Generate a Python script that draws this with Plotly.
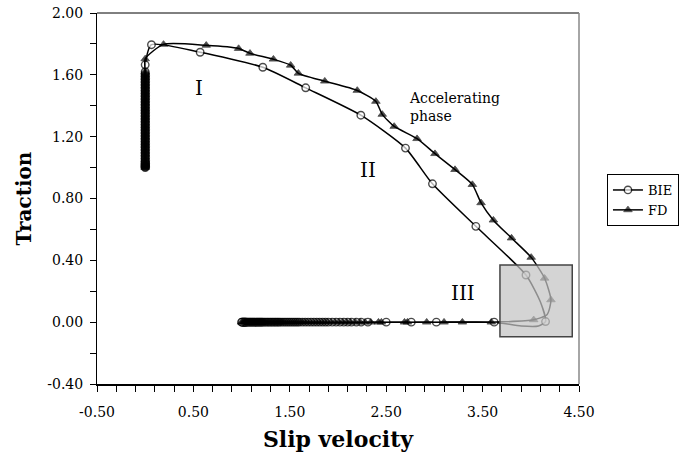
import plotly.graph_objects as go

# ---------------- data ----------------
# BIE: stick phase (x = 0), accelerating branch, loop in region III, decelerating branch (y = 0)
bie_stick_y = [1.00, 1.005, 1.01, 1.015, 1.02, 1.025, 1.03, 1.035, 1.04, 1.05, 1.06, 1.07,
               1.08, 1.09, 1.10, 1.11, 1.12, 1.13, 1.14, 1.15, 1.16, 1.17, 1.18, 1.19, 1.20,
               1.21, 1.22, 1.23, 1.24, 1.25, 1.26, 1.27, 1.28, 1.29, 1.30, 1.31, 1.32, 1.33,
               1.34, 1.35, 1.36, 1.37, 1.38, 1.39, 1.40, 1.41, 1.42, 1.43, 1.44, 1.45, 1.46,
               1.47, 1.48, 1.49, 1.50, 1.51, 1.52, 1.53, 1.54, 1.55, 1.56, 1.57, 1.58, 1.59,
               1.60, 1.61, 1.62, 1.665]
bie_acc_x = [0.065, 0.57, 1.22, 1.665, 2.237, 2.70, 2.98, 3.43, 3.95]
bie_acc_y = [1.795, 1.746, 1.649, 1.516, 1.339, 1.126, 0.895, 0.62, 0.305]
bie_loop_x = [4.10, 4.153, 4.08, 3.90, 3.62]
bie_loop_y = [0.13, 0.004, -0.025, -0.025, 0.00]
bie_loop_marked = [False, True, False, False, True]
bie_dec_x = [3.02, 2.76, 2.50, 2.31, 2.24, 2.19, 2.14, 2.10, 2.06, 2.02, 1.98, 1.94, 1.90,
             1.87, 1.84, 1.81, 1.78, 1.75, 1.72, 1.69, 1.66, 1.63, 1.60, 1.58, 1.56, 1.54,
             1.52, 1.50, 1.48, 1.46, 1.44, 1.42, 1.40, 1.385, 1.37, 1.355, 1.34, 1.325, 1.31,
             1.295, 1.28, 1.265, 1.25, 1.235, 1.22, 1.21, 1.20, 1.19, 1.18, 1.17, 1.16, 1.15,
             1.14, 1.13, 1.12, 1.11, 1.10, 1.09, 1.08, 1.07, 1.06, 1.05, 1.045, 1.04, 1.035,
             1.03, 1.025, 1.02, 1.015, 1.01, 1.005, 1.00]

# FD
fd_stick_y = [1.00, 1.005, 1.01, 1.015, 1.02, 1.025, 1.03, 1.04, 1.05, 1.06, 1.07, 1.08,
              1.09, 1.10, 1.11, 1.12, 1.13, 1.14, 1.15, 1.16, 1.17, 1.18, 1.19, 1.20, 1.21,
              1.22, 1.23, 1.24, 1.25, 1.26, 1.27, 1.28, 1.29, 1.30, 1.31, 1.32, 1.33, 1.34,
              1.35, 1.36, 1.37, 1.38, 1.39, 1.40, 1.41, 1.42, 1.43, 1.44, 1.45, 1.46, 1.47,
              1.48, 1.49, 1.50, 1.51, 1.52, 1.53, 1.54, 1.55, 1.56, 1.57, 1.58, 1.59, 1.60,
              1.61, 1.62, 1.703]
fd_acc_x = [0.19, 0.633, 0.969, 1.087, 1.33, 1.509, 1.589, 1.863, 2.20, 2.393, 2.459, 2.583,
            2.82, 3.006, 3.214, 3.394, 3.484, 3.612, 3.80, 4.004, 4.143, 4.209]
fd_acc_y = [1.797, 1.791, 1.770, 1.739, 1.701, 1.662, 1.61, 1.559, 1.499, 1.428, 1.344,
            1.266, 1.187, 1.09, 0.987, 0.890, 0.772, 0.66, 0.544, 0.419, 0.284, 0.144]
fd_loop_x = [4.17, 4.03, 3.59]
fd_loop_y = [0.05, 0.015, 0.00]
fd_loop_marked = [False, True, True]
fd_dec_x = [3.29, 3.10, 2.92, 2.72, 2.69, 2.45, 2.42, 2.34, 2.28, 2.23, 2.18, 2.13, 2.09,
            2.05, 2.01, 1.97, 1.93, 1.89, 1.86, 1.83, 1.80, 1.77, 1.74, 1.71, 1.68, 1.655,
            1.63, 1.605, 1.58, 1.56, 1.54, 1.52, 1.50, 1.48, 1.46, 1.44, 1.425, 1.41, 1.395,
            1.38, 1.365, 1.35, 1.335, 1.32, 1.305, 1.29, 1.275, 1.26, 1.245, 1.23, 1.22,
            1.21, 1.20, 1.19, 1.18, 1.17, 1.16, 1.15, 1.14, 1.13, 1.12, 1.11, 1.10, 1.09,
            1.08, 1.07, 1.06, 1.05, 1.04, 1.03, 1.02, 1.01, 1.00]

x_ticks = [-0.5, 0.5, 1.5, 2.5, 3.5, 4.5]
y_ticks = [-0.4, 0.0, 0.4, 0.8, 1.2, 1.6, 2.0]

FONT = "DejaVu Serif"


def assemble(stick_y, acc_x, acc_y, loop_x, loop_y, loop_marked, dec_x):
    xs = [0.0] * len(stick_y) + acc_x + loop_x + dec_x
    ys = stick_y + acc_y + loop_y + [0.0] * len(dec_x)
    marked = [True] * (len(stick_y) + len(acc_x)) + loop_marked + [True] * len(dec_x)
    return xs, ys, marked


bx, by, bm = assemble(bie_stick_y, bie_acc_x, bie_acc_y, bie_loop_x, bie_loop_y,
                      bie_loop_marked, bie_dec_x)
fx, fy, fm = assemble(fd_stick_y, fd_acc_x, fd_acc_y, fd_loop_x, fd_loop_y,
                      fd_loop_marked, fd_dec_x)

fig = go.Figure()
fig.add_trace(go.Scatter(
    x=bx, y=by, name="BIE", mode="lines+markers",
    line=dict(color="black", width=1.5, shape="spline", smoothing=0.6),
    marker=dict(symbol="circle", size=[7.5 if m else 0 for m in bm], color="white",
                line=dict(color="black", width=1.4)),
))
fig.add_trace(go.Scatter(
    x=fx, y=fy, name="FD", mode="lines+markers",
    line=dict(color="black", width=1.5, shape="spline", smoothing=0.6),
    marker=dict(symbol="triangle-up", size=[7.5 if m else 0 for m in fm], color="black",
                line=dict(color="black", width=0.8)),
))

# shaded region III
fig.add_shape(type="rect", xref="x", yref="y", x0=3.68, x1=4.43, y0=-0.095, y1=0.37,
              fillcolor="rgba(195,195,195,0.72)", line=dict(color="#444", width=1.5),
              layer="above")
# top and right borders of plot area
fig.add_shape(type="line", xref="paper", yref="paper", x0=0, x1=1, y0=1, y1=1,
              line=dict(color="black", width=1))
fig.add_shape(type="line", xref="paper", yref="paper", x0=1, x1=1, y0=0, y1=1,
              line=dict(color="#888", width=1.5))

ann_font = dict(family=FONT, size=20, color="black")
fig.add_annotation(x=0.563, y=1.518, text="I", showarrow=False, font=ann_font)
fig.add_annotation(x=2.31, y=0.983, text="II", showarrow=False, font=ann_font)
fig.add_annotation(x=3.30, y=0.189, text="III", showarrow=False, font=ann_font)
fig.add_annotation(x=2.72, y=1.39, text="Accelerating<br>phase", showarrow=False,
                   xanchor="left", align="left", font=dict(family=FONT, size=14, color="black"))

fig.update_layout(
    width=682, height=461,
    margin=dict(l=97, r=103, t=13, b=77, autoexpand=False),
    plot_bgcolor="white", paper_bgcolor="white",
    font=dict(family=FONT, size=14, color="black"),
    showlegend=True,
    legend=dict(x=1.058, y=0.566, xanchor="left", yanchor="top",
                bordercolor="black", borderwidth=1, bgcolor="white",
                font=dict(family=FONT, size=13), itemwidth=30,
                tracegroupgap=0),
    xaxis=dict(range=[-0.5, 4.5], tickvals=x_ticks, ticktext=[f"{v:.2f}" for v in x_ticks],
               showgrid=False, zeroline=False, showline=True, linecolor="black", linewidth=2,
               ticks="outside", ticklen=6, tickcolor="black", automargin=False,
               ticklabelstandoff=8, ticklabeloverflow="allow",
               minor=dict(tick0=-0.5, dtick=0.2, ticks="outside", ticklen=6, tickcolor="black"),
               tickfont=dict(family=FONT, size=14),
               title=dict(text="<b>Slip velocity</b>", font=dict(family=FONT, size=22), standoff=13)),
    yaxis=dict(range=[-0.4, 2.0], tickvals=y_ticks, ticktext=[f"{v:.2f}" for v in y_ticks],
               showgrid=False, zeroline=False, showline=True, linecolor="black", linewidth=1,
               ticks="outside", ticklen=6, tickcolor="black", automargin=False,
               ticklabelstandoff=4, ticklabeloverflow="allow",
               minor=dict(tick0=-0.4, dtick=0.2, ticks="outside", ticklen=6, tickcolor="black"),
               tickfont=dict(family=FONT, size=14),
               title=dict(text="<b>Traction</b>", font=dict(family=FONT, size=20), standoff=10)),
)

# remove the browser's default 8px body margin so the figure sits at the page origin
fig.write_html("out.html", config={"displayModeBar": False},
               post_script="document.body.style.margin='0';")
